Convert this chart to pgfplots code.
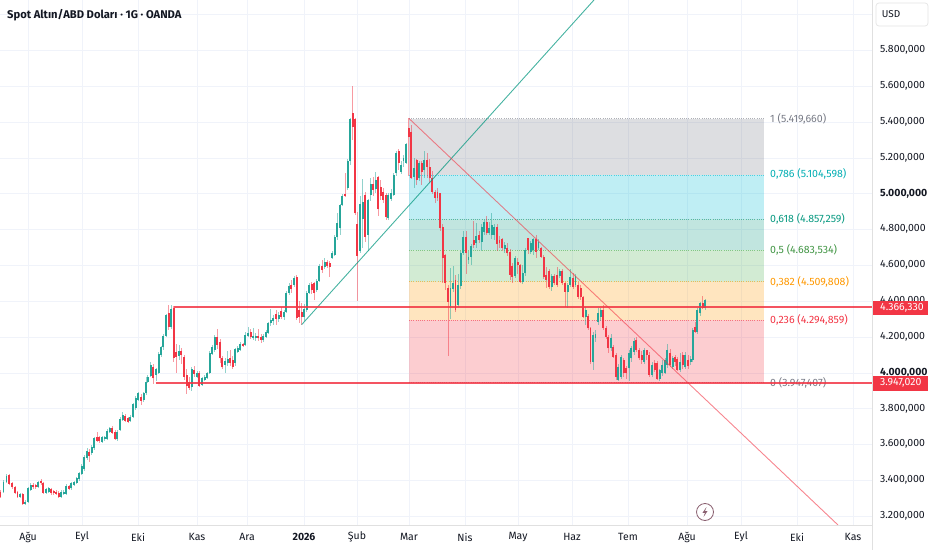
\documentclass[border=0pt]{standalone}
\usepackage{pgfplots}
\usepackage{pgfplotstable}
\usepackage{fontspec}
\setmainfont{Fira Sans}
\pgfplotsset{compat=1.18}
\definecolor{tvup}{HTML}{26A69A}
\definecolor{tvdn}{HTML}{F23645}
\definecolor{gridc}{HTML}{F0F3FA}
\definecolor{tvtxt}{HTML}{131722}
\definecolor{fibgray}{HTML}{787B86}
\definecolor{fibcy}{HTML}{00BCD4}
\definecolor{fibte}{HTML}{089981}
\definecolor{fibgr}{HTML}{4CAF50}
\definecolor{fibor}{HTML}{FF9800}
\definecolor{fibre}{HTML}{F23645}
\definecolor{boltc}{HTML}{8A6070}
\pgfplotstableread{
x o h l c
3.5 3338 3402 3330 3394
6.5 3394 3435 3390 3425
20 3306 3330 3300 3325
25.3 3269 3290 3262 3282
28 3282 3365 3278 3360
30.7 3347 3385 3340 3375
38.3 3366 3400 3360 3394
46 3332 3360 3325 3351
48.7 3338 3362 3330 3356
61.3 3310 3345 3305 3338
63.7 3325 3345 3318 3338
66.3 3325 3378 3320 3370
71.3 3356 3392 3350 3384
74 3375 3400 3368 3394
76.7 3388 3420 3382 3412
79 3407 3448 3400 3440
81.7 3436 3490 3430 3481
84.3 3462 3540 3455 3529
87 3524 3580 3515 3567
91.7 3552 3600 3545 3589
94.3 3580 3645 3572 3635
102 3617 3650 3610 3641
104.7 3630 3650 3622 3645
107.3 3630 3688 3625 3678
109.7 3673 3700 3665 3691
117.3 3630 3680 3622 3673
120 3682 3752 3675 3742
122.7 3738 3784 3730 3766
130.3 3734 3765 3725 3753
133 3756 3835 3750 3827
135.7 3803 3870 3795 3859
138.3 3849 3895 3842 3887
143.7 3849 3895 3840 3887
146 3887 3975 3880 3952
147.7 3952 3989 3945 3980
150.7 3983 4060 3975 4045
156 3990 4030 3955 4025
158.7 4002 4115 3995 4106
161 4100 4150 4090 4143
163.3 4143 4215 4130 4207
166 4207 4330 4200 4324
171.3 4255 4378 4245 4355
179 4095 4155 4070 4125
191.7 3920 4035 3900 4020
197 3980 4010 3970 3998
202 3933 3980 3925 3970
204.7 3961 3990 3955 3980
207 3970 4005 3965 3998
209.7 4002 4120 3995 4110
212.3 4106 4155 4100 4147
214.7 4128 4210 4115 4199
225 4045 4085 3998 4069
227.7 4054 4125 4040 4076
235.3 4058 4140 4040 4132
237.7 4119 4150 4110 4138
240.3 4128 4175 4120 4162
245.3 4156 4230 4150 4212
248 4207 4255 4200 4225
253.3 4193 4250 4185 4207
255.7 4193 4225 4180 4205
263.3 4184 4215 4175 4207
266 4203 4240 4195 4231
268.3 4225 4285 4215 4277
270.7 4277 4355 4265 4296
273.3 4292 4325 4270 4305
278.7 4300 4340 4285 4324
284 4310 4350 4295 4342
286.3 4342 4455 4335 4445
289 4445 4500 4435 4486
294 4491 4540 4480 4528
304 4315 4385 4290 4355
306.7 4352 4455 4340 4448
309 4448 4500 4440 4491
316.7 4463 4525 4450 4515
319.3 4515 4610 4505 4597
324.7 4590 4640 4580 4621
332.3 4640 4680 4635 4668
334.7 4658 4770 4650 4761
337.3 4757 4890 4740 4835
340 4807 4945 4770 4937
342.3 4937 5000 4930 4988
347.7 5030 5195 5020 5183
350 5180 5425 5160 5416
360.3 4680 4990 4670 4943
362.7 4860 5085 4700 4955
368 4770 4970 4680 4965
370.7 4993 5090 4960 5055
375.7 5025 5120 5005 5077
388.3 4863 5005 4855 4993
391 4970 5025 4960 5003
393.7 4993 5115 4985 5105
396 5114 5240 5100 5230
401 5124 5180 5110 5161
403.5 5183 5215 5150 5200
406 5174 5285 5165 5278
414 5096 5200 5030 5142
419 5086 5185 5070 5174
424.3 5133 5240 5090 5189
450.5 4370 4585 4300 4472
453 4467 4595 4450 4504
458 4379 4550 4370 4491
460.7 4485 4680 4470 4667
463.3 4671 4795 4660 4757
468.5 4630 4680 4610 4649
471 4649 4720 4600 4708
476.3 4727 4835 4700 4764
481.7 4732 4830 4680 4816
484 4788 4855 4770 4844
489 4779 4840 4770 4810
491.7 4770 4890 4750 4825
494.3 4770 4830 4740 4816
504.7 4690 4730 4670 4714
515 4540 4650 4530 4640
522.7 4509 4600 4495 4556
525.3 4556 4700 4540 4686
530.7 4677 4735 4665 4723
533.3 4686 4755 4660 4745
538.5 4695 4745 4685 4732
551.7 4480 4550 4455 4541
559.7 4541 4580 4530 4571
567.7 4453 4500 4365 4491
570.3 4491 4580 4480 4537
575.5 4490 4555 4480 4541
585.9 4314 4370 4268 4352
593 4063 4230 4017 4212
595.5 4194 4240 4175 4218
598 4287 4365 4270 4333
600.7 4314 4365 4290 4352
611 4138 4215 4120 4194
618.3 3961 4050 3958 4032
621 3980 4100 3965 4087
629 4026 4130 3955 4114
631.3 4082 4150 4060 4138
634 4119 4195 4100 4180
644 4063 4140 4050 4128
652 3989 4060 3975 4045
659.7 3965 4025 3958 4017
662.3 3998 4070 3985 4045
665 3998 4085 3995 4073
667.3 4045 4160 4030 4128
672.7 4031 4095 4020 4082
680 4017 4110 4005 4063
685.3 4031 4115 4020 4100
690.7 4063 4095 4045 4076
692.7 4073 4250 4060 4240
697.3 4231 4365 4220 4352
700 4333 4395 4320 4389
705.3 4361 4415 4350 4407
}\upt
\pgfplotstableread{
x o h l c
0.5 3338 3345 3300 3306
9.3 3431 3435 3375 3381
12.3 3388 3392 3355 3362
15 3366 3370 3325 3329
17.5 3338 3342 3300 3306
22.7 3325 3330 3265 3269
33.3 3375 3385 3355 3362
35.7 3375 3380 3355 3362
41 3399 3410 3375 3384
43.3 3388 3392 3325 3332
51 3351 3358 3322 3329
53.7 3343 3350 3322 3329
56 3338 3345 3320 3325
58.7 3332 3340 3305 3310
69 3370 3375 3350 3355
89.3 3561 3575 3505 3537
97 3645 3673 3615 3622
99.3 3641 3650 3610 3622
112.3 3691 3705 3660 3667
115 3673 3680 3625 3630
125.3 3760 3770 3725 3734
128 3747 3755 3720 3728
141 3868 3885 3820 3846
153.3 4035 4050 3940 3970
168.7 4337 4378 4240 4259
173.7 4361 4375 4060 4082
176.3 4119 4160 4000 4091
181.3 4125 4140 4050 4100
184 4091 4100 3960 3980
186.7 3989 4020 3885 3928
189.3 3952 3975 3905 3915
194.3 4017 4040 3975 3994
199.3 3998 4010 3920 3928
217.3 4203 4245 4135 4156
220 4175 4190 4055 4082
222.3 4082 4095 4020 4032
230.3 4082 4130 4040 4058
232.7 4073 4095 4020 4035
243 4162 4170 4145 4151
250.7 4231 4245 4190 4203
258.3 4207 4245 4180 4193
261 4203 4215 4170 4184
276 4330 4350 4270 4300
281.3 4346 4370 4300 4315
291.3 4491 4520 4445 4467
296.7 4538 4545 4298 4305
299 4352 4400 4280 4314
301.7 4342 4390 4270 4314
311.7 4497 4505 4440 4463
314.3 4500 4510 4410 4445
322 4597 4630 4560 4575
327 4621 4630 4585 4595
329.7 4616 4625 4535 4590
345 5000 5115 4980 4985
352.7 5449 5602 5300 5375
355 5416 5425 4880 4891
357.3 4832 4900 4400 4653
365.3 4993 5010 4730 4761
373.3 5055 5095 4990 5021
378 5092 5100 4875 4913
380.7 5040 5075 4965 4990
383.3 5012 5030 4950 4965
386 4993 5005 4855 4869
398.7 5241 5250 5130 5170
408.7 5365 5420 5100 5319
411.3 5347 5385 5080 5086
416.7 5189 5195 5050 5077
421.7 5170 5185 5050 5123
427 5189 5225 5090 5151
429.7 5148 5195 5060 5086
432.3 5086 5125 5000 5012
435 5012 5020 4950 4975
437.5 5012 5030 4960 4975
440 5003 5005 4790 4807
442.7 4816 4830 4500 4640
445.3 4658 4665 4465 4500
448 4476 4490 4095 4398
455.5 4519 4545 4340 4351
466 4757 4790 4552 4671
473.7 4742 4850 4695 4714
479 4770 4790 4725 4742
486.7 4844 4875 4770 4783
497 4816 4830 4680 4718
499.5 4742 4765 4700 4723
502 4745 4755 4680 4695
507.3 4699 4725 4650 4667
510 4677 4690 4520 4547
512.3 4599 4615 4500 4537
517.7 4621 4640 4550 4602
520 4602 4610 4500 4509
528 4751 4755 4665 4686
536 4745 4770 4640 4677
541 4695 4705 4640 4649
543.7 4649 4660 4525 4537
546.3 4547 4590 4475 4519
549 4571 4580 4470 4478
554.3 4541 4555 4490 4500
557 4547 4590 4480 4491
562.3 4571 4580 4490 4500
565 4500 4510 4370 4453
573 4528 4560 4470 4481
578 4491 4505 4415 4426
580.7 4472 4490 4410 4422
583.3 4426 4430 4305 4314
588 4318 4330 4240 4249
590.5 4249 4255 4050 4063
603.3 4352 4380 4240 4250
606 4250 4260 4190 4203
608.3 4203 4210 4110 4138
613.3 4147 4155 4085 4091
616 4101 4110 3960 3980
623.7 4073 4085 3980 3998
626.3 4026 4040 3965 4002
636.3 4184 4200 4115 4128
639 4128 4140 4070 4082
641.7 4101 4120 4050 4073
646.7 4128 4130 4075 4100
649.3 4100 4115 3980 3989
654.7 4054 4075 4005 4017
657 4054 4065 3960 3965
670 4110 4135 4035 4045
675 4087 4100 4040 4063
677.3 4076 4090 4010 4017
682.7 4100 4115 4025 4045
688 4073 4100 4025 4039
695 4258 4285 4225 4231
702.7 4389 4430 4355 4361
}\dnt
\newcommand{\fibline}[2]{%
 \addplot[#1,line width=.7pt,opacity=.6,dash pattern=on 1pt off 1.2pt,forget plot] coordinates {(409,#2) (764,#2)};}
\newcommand{\gv}[1]{\addplot[gridc,line width=.8pt,forget plot] coordinates {(#1,3152) (#1,6081)};}
\newcommand{\gh}[1]{\addplot[gridc,line width=.8pt,forget plot] coordinates {(0,#1) (872,#1)};}
\begin{document}
\begin{tikzpicture}[x=1pt,y=1pt]
\useasboundingbox (0,0) rectangle (932,550);
\begin{axis}[
 at={(0pt,25pt)},anchor=south west,
 scale only axis,width=872pt,height=525pt,
 xmin=0,xmax=872,ymin=3152,ymax=6081,
 axis lines=none,
 clip mode=individual,
]
\gv{28}\gv{82}\gv{138}\gv{197}\gv{247}\gv{304}\gv{357}\gv{409}\gv{465}\gv{518}\gv{572}\gv{628}\gv{687}\gv{741}\gv{797}\gv{853}
\gh{3200}\gh{3400}\gh{3600}\gh{3800}\gh{4000}\gh{4200}\gh{4400}\gh{4600}\gh{4800}\gh{5000}\gh{5200}\gh{5400}\gh{5600}\gh{5800}\gh{6000}
% fib zones
\addplot[draw=none,fill=fibgray,fill opacity=.25,forget plot] coordinates {(409,5419.66) (764,5419.66) (764,5104.598) (409,5104.598)} --cycle;
\addplot[draw=none,fill=fibcy,fill opacity=.25,forget plot] coordinates {(409,5104.598) (764,5104.598) (764,4857.259) (409,4857.259)} --cycle;
\addplot[draw=none,fill=fibte,fill opacity=.25,forget plot] coordinates {(409,4857.259) (764,4857.259) (764,4683.534) (409,4683.534)} --cycle;
\addplot[draw=none,fill=fibgr,fill opacity=.25,forget plot] coordinates {(409,4683.534) (764,4683.534) (764,4509.808) (409,4509.808)} --cycle;
\addplot[draw=none,fill=fibor,fill opacity=.25,forget plot] coordinates {(409,4509.808) (764,4509.808) (764,4294.859) (409,4294.859)} --cycle;
\addplot[draw=none,fill=fibre,fill opacity=.25,forget plot] coordinates {(409,4294.859) (764,4294.859) (764,3947.407) (409,3947.407)} --cycle;
\fibline{fibgray}{5419.66}
\fibline{fibcy}{5104.598}
\fibline{fibte}{4857.259}
\fibline{fibgr}{4683.534}
\fibline{fibor}{4509.808}
\fibline{fibre}{4294.859}
\fibline{fibgray}{3947.407}
\node[anchor=west,inner sep=0pt,font=\fontsize{10.6}{12}\selectfont,text=fibgray] at (axis cs:770,3947.4) {0 (3.947,407)};
% wicks
\addplot[draw=none,forget plot,error bars/.cd,y dir=both,y explicit,error mark=none,error bar style={tvup,line width=.9pt,opacity=.5}]
 table[x=x,y=o,y error plus expr=\thisrow{h}-\thisrow{o},y error minus expr=\thisrow{o}-\thisrow{l}] {\upt};
\addplot[draw=none,forget plot,error bars/.cd,y dir=both,y explicit,error mark=none,error bar style={tvdn,line width=.9pt,opacity=.5}]
 table[x=x,y=o,y error plus expr=\thisrow{h}-\thisrow{o},y error minus expr=\thisrow{o}-\thisrow{l}] {\dnt};
% bodies
\addplot[draw=none,forget plot,error bars/.cd,y dir=plus,y explicit,error mark=none,error bar style={tvup,line width=1.8pt}]
 table[x=x,y=o,y error plus expr=\thisrow{c}-\thisrow{o},y error minus expr=0] {\upt};
\addplot[draw=none,forget plot,error bars/.cd,y dir=plus,y explicit,error mark=none,error bar style={tvdn,line width=1.8pt}]
 table[x=x,y=c,y error plus expr=\thisrow{o}-\thisrow{c},y error minus expr=0] {\dnt};
% trend lines
\addplot[fibte,line width=.9pt,opacity=.75,forget plot] coordinates {(301.7,4270) (594,6081)};
\addplot[tvdn,line width=.9pt,opacity=.6,forget plot] coordinates {(409,5420) (838,3152)};
% support / resistance
\addplot[tvdn,line width=2pt,opacity=.85,forget plot] coordinates {(173.5,4366.33) (872,4366.33)};
\addplot[tvdn,line width=2pt,opacity=.85,forget plot] coordinates {(155.5,3947.02) (872,3947.02)};
\end{axis}
\fill[white] (872,0) rectangle (932,550);
\fill[white] (0,0) rectangle (872,25);
\draw[color=black!12,line width=.8pt] (0,25)--(872,25);
\draw[color=black!12,line width=.8pt] (872,0)--(872,550);
\begingroup
\tikzset{lab/.style={anchor=center,font=\fontsize{10.5}{12}\selectfont,text=tvtxt},
 pl/.style={anchor=west,inner sep=0pt,font=\fontsize{10.5}{12}\selectfont,text=tvtxt},
 fl/.style={anchor=west,inner sep=0pt,font=\fontsize{10.6}{12}\selectfont}}
\node[lab] at (28,13) {Ağu};
\node[lab] at (82,13) {Eyl};
\node[lab] at (138,13) {Eki};
\node[lab] at (197,13) {Kas};
\node[lab] at (247,13) {Ara};
\node[lab] at (304,13) {\textbf{2026}};
\node[lab] at (357,13) {Şub};
\node[lab] at (409,13) {Mar};
\node[lab] at (465,13) {Nis};
\node[lab] at (518,13) {May};
\node[lab] at (572,13) {Haz};
\node[lab] at (628,13) {Tem};
\node[lab] at (687,13) {Ağu};
\node[lab] at (741,13) {Eyl};
\node[lab] at (797,13) {Eki};
\node[lab] at (853,13) {Kas};
\node[pl] at (880,500) {5.800,000};
\node[pl] at (880,464.2) {5.600,000};
\node[pl] at (880,428.3) {5.400,000};
\node[pl] at (880,392.5) {5.200,000};
\node[pl] at (880,356.6) {\textbf{5.000,000}};
\node[pl] at (880,320.8) {4.800,000};
\node[pl] at (880,284.9) {4.600,000};
\node[pl] at (880,249.1) {4.400,000};
\node[pl] at (880,213.2) {4.200,000};
\node[pl] at (880,177.4) {\textbf{4.000,000}};
\node[pl] at (880,141.5) {3.800,000};
\node[pl] at (880,105.7) {3.600,000};
\node[pl] at (880,69.8) {3.400,000};
\node[pl] at (880,34) {3.200,000};
\fill[tvdn] (872.5,234.7) rectangle (928,249.3);
\fill[tvdn] (872.5,159.3) rectangle (928,174);
\node[pl,text=white] at (880,242) {4.366,330};
\node[pl,text=white] at (880,166.7) {3.947,020};
\node[fl,text=fibgray] at (770,431) {1 (5.419,660)};
\node[fl,text=fibcy!60!fibte] at (770,376) {0,786 (5.104,598)};
\node[fl,text=fibte] at (770,331) {0,618 (4.857,259)};
\node[fl,text=fibgr!85!black] at (770,300) {0,5 (4.683,534)};
\node[fl,text=fibor] at (770,268) {0,382 (4.509,808)};
\node[fl,text=fibre] at (770,230) {0,236 (4.294,859)};
\node[anchor=west,inner sep=0pt,font=\fontsize{11.2}{13}\selectfont\bfseries,text=tvtxt] at (7,535) {Spot Altın/ABD Doları · 1G · OANDA};
\draw[black!10,line width=.7pt,fill=white,rounded corners=3pt] (876,524) rectangle (928,547);
\node[anchor=center,font=\fontsize{10}{12}\selectfont,text=tvtxt] at (891,535.5) {USD};
\draw[boltc,line width=.8pt,fill=white] (705,38) circle (8.5);
\fill[boltc] (706.5,43)--(702.5,37.2)--(705,37.2)--(703.5,33)--(707.5,39)--(705,39)--cycle;
\endgroup
\end{tikzpicture}
\end{document}
